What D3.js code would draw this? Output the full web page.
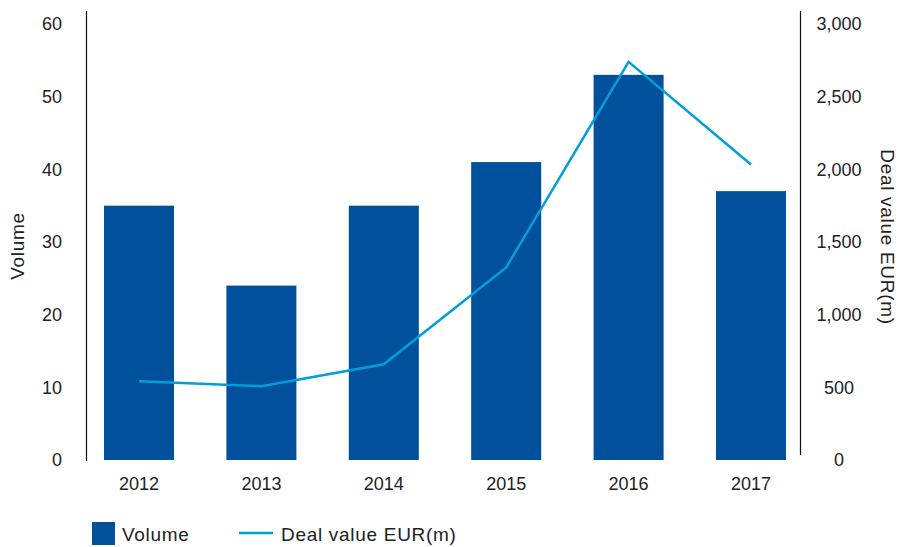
<!DOCTYPE html>
<html><head><meta charset="utf-8">
<script src="https://cdn.jsdelivr.net/npm/d3@7"></script>
<style>body{margin:0;background:#fff}svg{display:block}text{font-family:"Liberation Sans",Arial,sans-serif;fill:#222}</style>
</head><body>
<svg id="c" width="900" height="547"></svg>
<script>
const years = ["2012","2013","2014","2015","2016","2017"];
const volume = [35, 24, 35, 41, 53, 37];
const dealValue = [542, 508, 659, 1325, 2740, 2033];
const leftTicks = [0,10,20,30,40,50,60];
const rightTicks = [0,500,1000,1500,2000,2500,3000];

const svg = d3.select("#c");
const barColor = "#00509b", lineColor = "#009fda";
const fs = 18, fsWord = 19, ls = "0.7px";
const ff = '"Liberation Sans",Arial,sans-serif';

const x = d3.scaleBand().domain(years).range([104, 786]).paddingInner(0.428).paddingOuter(0);
const y = d3.scaleLinear().domain([0,60]).range([460, 24]);
const y2 = d3.scaleLinear().domain([0,3000]).range([460, 24]);

// bars
svg.selectAll("rect.bar").data(years).enter().append("rect")
  .attr("class","bar")
  .attr("x", d => x(d)).attr("width", x.bandwidth())
  .attr("y", (d,i) => y(volume[i])).attr("height", (d,i) => y(0) - y(volume[i]))
  .attr("fill", barColor);

// line
const line = d3.line().x((d,i) => x(years[i]) + x.bandwidth()/2).y(d => y2(d));
svg.append("path").datum(dealValue).attr("d", line)
  .attr("fill","none").attr("stroke", lineColor).attr("stroke-width", 2.5);

// axis lines
svg.append("line").attr("x1",86.5).attr("x2",86.5).attr("y1",11).attr("y2",461).attr("stroke","#111").attr("stroke-width",1.2);
svg.append("line").attr("x1",800.5).attr("x2",800.5).attr("y1",11).attr("y2",455).attr("stroke","#111").attr("stroke-width",1.2);

// left ticks
const leftAxis = d3.axisLeft(y).tickValues(leftTicks).tickSize(0).tickPadding(0).tickFormat(d3.format("d"));
const gl = svg.append("g").attr("transform","translate(62,0)").call(leftAxis);
gl.select(".domain").remove();
gl.selectAll("text").attr("font-size", fs).attr("font-family",ff).attr("fill","#222");

// right ticks
const rightAxis = d3.axisRight(y2).tickValues(rightTicks).tickSize(0).tickPadding(0).tickFormat(d3.format(","));
const gr = svg.append("g").attr("transform","translate(839,0)").call(rightAxis);
gr.select(".domain").remove();
gr.selectAll("text").attr("text-anchor","middle").attr("font-size", fs).attr("font-family",ff).attr("fill","#222");

// x labels
const bottomAxis = d3.axisBottom(x).tickSize(0).tickPadding(0);
const gb = svg.append("g").attr("transform","translate(0,477)").call(bottomAxis);
gb.select(".domain").remove();
gb.selectAll("text").attr("font-size", fs).attr("font-family",ff).attr("fill","#222");

// axis titles
svg.append("text").attr("transform","translate(24,246) rotate(-90)").attr("text-anchor","middle")
  .attr("font-size",fsWord).attr("letter-spacing",ls).text("Volume");
svg.append("text").attr("transform","translate(881,237) rotate(90)").attr("text-anchor","middle")
  .attr("font-size",fsWord).attr("letter-spacing",ls).text("Deal value EUR(m)");

// legend
svg.append("rect").attr("x",92).attr("y",522).attr("width",23).attr("height",23).attr("fill",barColor);
svg.append("text").attr("x",122).attr("y",541).attr("font-size",fsWord).attr("letter-spacing",ls).text("Volume");
svg.append("line").attr("x1",239).attr("x2",273).attr("y1",533).attr("y2",533).attr("stroke",lineColor).attr("stroke-width",2.5);
svg.append("text").attr("x",281).attr("y",541).attr("font-size",fsWord).attr("letter-spacing",ls).text("Deal value EUR(m)");
</script>
</body></html>
